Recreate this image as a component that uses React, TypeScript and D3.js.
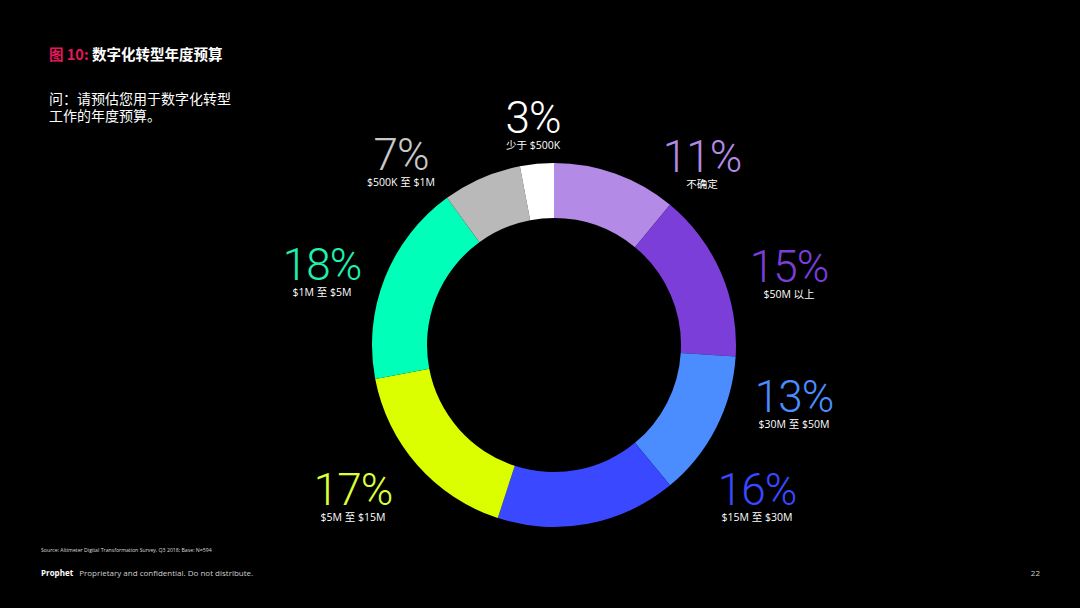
import React, { useEffect, useRef } from "react";
import * as d3 from "d3";

const categories = [
  "不确定",
  "$50M 以上",
  "$30M 至 $50M",
  "$15M 至 $30M",
  "$5M 至 $15M",
  "$1M 至 $5M",
  "$500K 至 $1M",
  "少于 $500K",
];
const shares = [11, 15, 13, 16, 17, 18, 7, 3];
const colors = [
  "#b38ae6",
  "#7b3ed8",
  "#4b8cff",
  "#3a48ff",
  "#dcff00",
  "#00ffb9",
  "#b9b9b9",
  "#ffffff",
];
const pctColors = [
  "#b38ae6",
  "#7b3ed8",
  "#4b8cff",
  "#3a48ff",
  "#dcff3a",
  "#1ff0b0",
  "#c8c8c8",
  "#ffffff",
];
// label anchor points (layout)
const labelPos: [number, number][] = [
  [702, 172],
  [789, 282],
  [794, 412],
  [757, 505],
  [353, 505],
  [322, 280],
  [401, 170],
  [533, 133],
];

const W = 1080;
const H = 608;

const App: React.FC = () => {
  const ref = useRef<SVGSVGElement | null>(null);

  useEffect(() => {
    if (!ref.current) return;
    const svg = d3.select(ref.current);
    svg.selectAll("*").remove();

    svg.append("rect").attr("width", W).attr("height", H).attr("fill", "#000");

    const cx = 554;
    const cy = 345;
    const data = categories.map((c, i) => ({ label: c, value: shares[i], i }));

    const pie = d3
      .pie<{ label: string; value: number; i: number }>()
      .value((d) => d.value)
      .sort(null);
    const arc = d3
      .arc<d3.PieArcDatum<{ label: string; value: number; i: number }>>()
      .innerRadius(127)
      .outerRadius(182);

    const g = svg.append("g").attr("transform", `translate(${cx},${cy})`);
    g.selectAll("path")
      .data(pie(data))
      .enter()
      .append("path")
      .attr("d", arc)
      .attr("fill", (d) => colors[d.data.i]);

    const labels = svg
      .selectAll("g.lbl")
      .data(data)
      .enter()
      .append("g")
      .attr("class", "lbl")
      .attr("transform", (d) => `translate(${labelPos[d.i][0]},${labelPos[d.i][1]})`);
    labels
      .append("text")
      .attr("text-anchor", "middle")
      .attr("font-family", "Roboto, Lato, sans-serif")
      .attr("font-weight", 300)
      .attr("font-size", 44)
      .attr("letter-spacing", -1)
      .attr("fill", (d) => pctColors[d.i])
      .text((d) => `${d.value}%`);
    labels
      .append("text")
      .attr("text-anchor", "middle")
      .attr("y", 16)
      .attr("font-family", "'Open Sans', 'Noto Sans CJK SC', sans-serif")
      .attr("font-size", 10.5)
      .attr("fill", "#ffffff")
      .text((d) => d.label);

    // title
    const title = svg
      .append("text")
      .attr("x", 49)
      .attr("y", 60)
      .attr("font-family", "'Noto Sans CJK SC', sans-serif")
      .attr("font-weight", 700)
      .attr("font-size", 14.5);
    title.append("tspan").attr("fill", "#e3185b").text("图 10: ");
    title.append("tspan").attr("fill", "#ffffff").text("数字化转型年度预算");

    const q = svg
      .append("text")
      .attr("font-family", "'Noto Sans CJK SC', sans-serif")
      .attr("font-size", 14)
      .attr("fill", "#ffffff");
    q.append("tspan").attr("x", 49).attr("y", 104).text("问：请预估您用于数字化转型");
    q.append("tspan").attr("x", 49).attr("y", 121).text("工作的年度预算。");

    svg
      .append("text")
      .attr("x", 41)
      .attr("y", 552)
      .attr("font-family", "'Open Sans', sans-serif")
      .attr("font-size", 5.2)
      .attr("fill", "#dddddd")
      .text("Source: Altimeter Digital Transformation Survey, Q3 2018; Base: N=594");

    const foot = svg
      .append("text")
      .attr("x", 41)
      .attr("y", 576)
      .attr("font-family", "'Open Sans', sans-serif")
      .attr("font-size", 8)
      .attr("fill", "#cfcfcf");
    foot.append("tspan").attr("font-weight", 700).attr("fill", "#ffffff").text("Prophet");
    foot.append("tspan").attr("dx", 6).text("Proprietary and confidential. Do not distribute.");

    svg
      .append("text")
      .attr("x", 1040)
      .attr("y", 576)
      .attr("text-anchor", "end")
      .attr("font-family", "'Open Sans', sans-serif")
      .attr("font-size", 8)
      .attr("fill", "#cfcfcf")
      .text("22");
  }, []);

  return (
    <svg
      ref={ref}
      width={W}
      height={H}
      style={{ position: "fixed", left: 0, top: 0, display: "block" }}
    />
  );
};

export default App;
